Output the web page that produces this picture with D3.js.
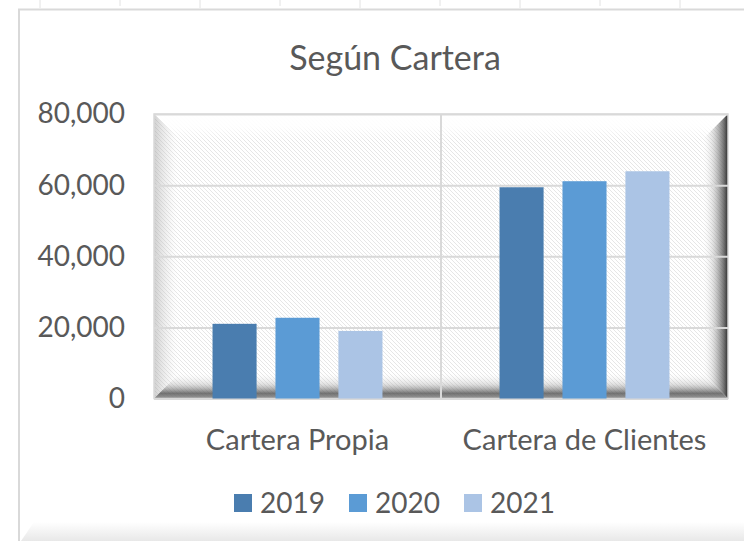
<!DOCTYPE html>
<html>
<head>
<meta charset="utf-8">
<script src="https://cdn.jsdelivr.net/npm/d3@7"></script>
<style>
    body { margin: 0; background: #fff; }
    svg { display: block; font-family: Lato, "Open Sans", sans-serif; }
</style>
</head>
<body>
<div id="chart"></div>
<script>
var categories = ["Cartera Propia", "Cartera de Clientes"];
var years = ["2019", "2020", "2021"];
var values2019 = [21000, 59400];
var values2020 = [22700, 61100];
var values2021 = [19000, 63900];
var yTicks = [0, 20000, 40000, 60000, 80000];
var colors = ["#4a7daf", "#5b9bd5", "#abc4e5"];

var seriesValues = [values2019, values2020, values2021];

var width = 744,
    height = 541,
    plot = { left: 154, right: 728, top: 114, bottom: 398.5 },
    bev = 26,
    textColor = "#595959";

var svg = d3.select("#chart")
    .append("svg")
    .attr("width", width)
    .attr("height", height);

var defs = svg.append("defs");

// hatch pattern of the plot area
var pat = defs.append("pattern")
    .attr("id", "hatch")
    .attr("patternUnits", "userSpaceOnUse")
    .attr("width", 4)
    .attr("height", 4);
pat.append("rect").attr("width", 4).attr("height", 4).attr("fill", "#fff");
pat.append("path")
    .attr("d", "M-1,-1L5,5M-1,3L1,5M3,-1L5,1")
    .attr("stroke", "#e6e6e6")
    .attr("stroke-width", 1);

function gradient(id, x1, y1, x2, y2, stops) {
    var g = defs.append("linearGradient")
        .attr("id", id)
        .attr("x1", x1).attr("y1", y1)
        .attr("x2", x2).attr("y2", y2);
    stops.forEach(function(s) {
        g.append("stop")
            .attr("offset", s[0])
            .attr("stop-color", s[1])
            .attr("stop-opacity", s[2]);
    });
}

gradient("bevTop", 0, 0, 0, 1, [[0, "#fff", 1], [0.45, "#fff", 0.9], [1, "#fff", 0]]);
gradient("bevLeft", 0, 0, 1, 0, [[0, "#a0a0a0", 0.5], [0.6, "#d0d0d0", 0.2], [1, "#fff", 0]]);
gradient("bevRight", 0, 0, 1, 0, [[0, "#fff", 0], [0.45, "#9a9a9a", 0.35], [0.85, "#555", 0.85], [1, "#2a2a2a", 1]]);
gradient("bevBottom", 0, 0, 0, 1, [[0, "#fff", 0], [0.45, "#a8a8a8", 0.35], [0.8, "#5a5a5a", 0.85], [1, "#909090", 0.9]]);
gradient("chartFoot", 0, 0, 0, 1, [[0, "#fff", 1], [1, "#e8e8e8", 1]]);

// spreadsheet cells behind the chart
var cellLines = d3.range(40, width, 80);
svg.selectAll("line.cell")
    .data(cellLines)
    .enter()
    .append("line")
    .attr("class", "cell")
    .attr("x1", function(d) { return d; })
    .attr("x2", function(d) { return d; })
    .attr("y1", 0)
    .attr("y2", function(d, i) { return i % 2 ? 6 : 8; })
    .attr("stroke", "#e2e2e2")
    .attr("stroke-width", 1);

// chart area border
svg.append("path")
    .attr("d", "M19,541V9.5H744")
    .attr("fill", "none")
    .attr("stroke", "#d9d9d9")
    .attr("stroke-width", 2);

svg.append("path")
    .attr("d", "M21,541L34,522H744V541Z")
    .attr("fill", "url(#chartFoot)");

// title
svg.append("text")
    .attr("x", 395)
    .attr("y", 70)
    .attr("text-anchor", "middle")
    .attr("fill", textColor)
    .style("font-size", "34px")
    .style("font-weight", 400)
    .text("Según Cartera");

// scales
var x0 = d3.scaleBand()
    .domain(categories)
    .range([plot.left, plot.right]);

var x1 = d3.scaleBand()
    .domain(years)
    .range([0, x0.bandwidth()])
    .paddingInner(0.3)
    .paddingOuter(0.93);

var y = d3.scaleLinear()
    .domain([0, 80000])
    .range([plot.bottom, plot.top]);

// plot area with bevel
var L = plot.left, R = plot.right, T = plot.top, B = plot.bottom;
svg.append("rect")
    .attr("x", L).attr("y", T)
    .attr("width", R - L).attr("height", B - T)
    .attr("fill", "url(#hatch)");

svg.append("path")
    .attr("d", "M" + L + "," + T + "L" + R + "," + T + "L" + (R - bev) + "," + (T + bev) + "L" + (L + bev) + "," + (T + bev) + "Z")
    .attr("fill", "url(#bevTop)");
svg.append("path")
    .attr("d", "M" + L + "," + T + "L" + (L + bev) + "," + (T + bev) + "L" + (L + bev) + "," + (B - bev) + "L" + L + "," + B + "Z")
    .attr("fill", "url(#bevLeft)");
svg.append("path")
    .attr("d", "M" + R + "," + T + "L" + R + "," + B + "L" + (R - bev) + "," + (B - bev) + "L" + (R - bev) + "," + (T + bev) + "Z")
    .attr("fill", "url(#bevRight)");
svg.append("path")
    .attr("d", "M" + L + "," + B + "L" + (L + bev) + "," + (B - bev) + "L" + (R - bev) + "," + (B - bev) + "L" + R + "," + B + "Z")
    .attr("fill", "url(#bevBottom)");

// gridlines
svg.append("g")
    .attr("transform", "translate(" + L + ",0)")
    .call(d3.axisLeft(y).tickValues(yTicks).tickSize(-(R - L)).tickFormat(""))
    .call(function(g) { g.select(".domain").remove(); })
    .selectAll("line")
    .attr("stroke", "#d9d9d9")
    .attr("stroke-width", 2);

svg.append("line")
    .attr("x1", x0(categories[1]))
    .attr("x2", x0(categories[1]))
    .attr("y1", T)
    .attr("y2", B)
    .attr("stroke", "#d9d9d9")
    .attr("stroke-width", 2);

svg.append("rect")
    .attr("x", L).attr("y", T)
    .attr("width", R - L).attr("height", B - T)
    .attr("fill", "none")
    .attr("stroke", "#d9d9d9")
    .attr("stroke-width", 1.5);

// bars
var groups = svg.selectAll("g.cat")
    .data(categories)
    .enter()
    .append("g")
    .attr("class", "cat")
    .attr("transform", function(d) { return "translate(" + x0(d) + ",0)"; });

groups.selectAll("rect")
    .data(function(d, ci) {
        return years.map(function(yr, si) {
            return { year: yr, value: seriesValues[si][ci], color: colors[si] };
        });
    })
    .enter()
    .append("rect")
    .attr("x", function(d) { return x1(d.year); })
    .attr("y", function(d) { return y(d.value); })
    .attr("width", x1.bandwidth())
    .attr("height", function(d) { return y(0) - y(d.value); })
    .attr("fill", function(d) { return d.color; });

// y axis labels
var yAxis = svg.append("g")
    .attr("transform", "translate(125,0)")
    .call(d3.axisLeft(y).tickValues(yTicks).tickSize(0).tickPadding(0).tickFormat(d3.format(",")));
yAxis.select(".domain").remove();
yAxis.selectAll("text")
    .attr("fill", textColor)
    .style("font-family", "Lato, sans-serif")
    .style("font-size", "28px");

// x axis labels
var xAxis = svg.append("g")
    .attr("transform", "translate(0," + B + ")")
    .call(d3.axisBottom(x0).tickSize(0).tickPadding(31));
xAxis.select(".domain").remove();
xAxis.selectAll("text")
    .attr("fill", textColor)
    .style("font-family", "Lato, sans-serif")
    .style("font-size", "29px");

// legend
var legendX = [234, 349, 464];
var legend = svg.selectAll("g.legend")
    .data(years)
    .enter()
    .append("g")
    .attr("class", "legend")
    .attr("transform", function(d, i) { return "translate(" + legendX[i] + ",494)"; });

legend.append("rect")
    .attr("width", 18)
    .attr("height", 18)
    .attr("fill", function(d, i) { return colors[i]; });

legend.append("text")
    .attr("x", 26)
    .attr("y", 19)
    .attr("fill", textColor)
    .style("font-size", "28px")
    .text(function(d) { return d; });
</script>
</body>
</html>
